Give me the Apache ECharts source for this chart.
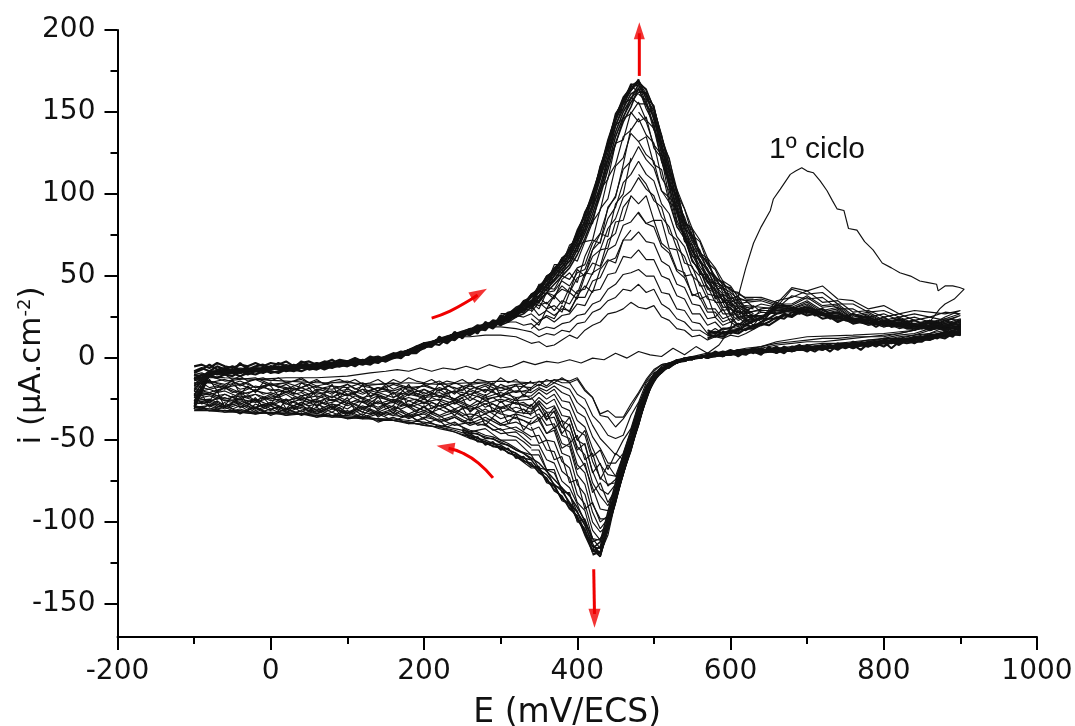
<!DOCTYPE html>
<html><head><meta charset="utf-8">
<style>html,body{margin:0;padding:0;background:#fff}#c{width:1075px;height:726px}</style>
<script src="https://cdn.jsdelivr.net/npm/echarts@6/dist/echarts.min.js"></script>
</head><body><div id="c"></div>
<script>
const xTicks=[-200,0,200,400,600,800,1000];
const yTicks=[-150,-100,-50,0,50,100,150,200];
const yMinor=[-125,-75,-25,25,75,125,175];
const eUp=[-100,-80,-60,-40,-20,0,20,40,60,80,100,120,140,160,180,200,220,240,260,280,300,320,
330,340,350,360,370,380,390,400,410,420,430,440,450,460,470,480,490,500,510,520,530,540,550,560,570,580,590,600,610,620,
640,660,680,700,720,740,760,780,800,820,840,860,880,900];
const eDn=[900,880,860,840,820,800,780,760,740,720,700,680,660,640,
620,610,600,590,580,570,560,550,540,530,520,510,500,490,480,470,460,450,440,430,420,410,400,390,380,370,360,350,340,
320,300,280,260,240,220,200,180,160,140,120,100,80,60,40,20,0,-20,-40,-60,-80,-100];

const e0Up=[-100,-60,-20,20,60,100,130,150,165,180,195,210,225,240,255,270,285,300,315,330,345,360,375,390,405,420,435,450,465,480,495,510,525,540,555,570,585,600,612,620,630,640,652,656,665,678,685,693,700,708,717,726,733,739,748,754,765,775,786,798,810,821,835,847,858,869,871,880,890,899,905];
const i0Up=[-12,-12,-13,-12,-12,-11,-9,-8,-7,-8,-6,-8,-6,-7,-5,-7,-4,-6,-5,-2,-4,-2,-3,-1,-3,0,-1,3,0,4,2,1,6,2,7,3,8,18,41,55,70,80,90,97,103,112,114,116,114,113,108,102,96,91,90,79,78,71,66,58,55,52,50,47,46,45,41,44,44,43,42];
const e0Dn=[905,892,880,873,860,840,800,760,700,660,640,620,600,570,540,520,510,500,490,480,470,460,450,440,430,420,410,400,390,380,340,300,260,220,180,140,100,60,20,-20,-60,-100];
const i0Dn=[42,36,33,30,22,17,15,14,13,10,7,5,4,2,0,-3,-4,-7,-13,-21,-28,-36,-36,-32,-34,-24,-19,-12,-14,-13,-15,-14,-15,-16,-15,-16,-15,-15,-14,-13,-12,-10];

const up01=[-11,-10,-8,-9,-7,-7,-6,-6,-4,-5,-3,-3,-1,0,4,7,10,13,13,14,14,13,
11,9,10,7,8,11,14,12,17,20,22,27,28,30,34,31,30,32,25,23,18,17,13,14,11,13,12,14,13,15,
20,33,43,41,44,36,35,30,32,27,29,28,27,29];
const dn01=[29,25,20,17,15,14,13,13,12,12,11,10,9,7,6,5,4,4,3,3,2,1,0,-1,
-3,-4,-8,-14,-22,-30,-37,-42,-36,-35,-24,-20,-13,-15,-12,-15,-13,-17,-15,
-16,-18,-15,-16,-19,-14,-17,-18,-15,-16,-17,-14,-15,-17,-13,-15,-16,-12,-13,-14,-11,-12];
const up02=[-12,-9,-9,-7,-8,-5,-6,-5,-5,-3,-3,-1,-1,2,5,8,11,14,17,19,19,18,
17,16,13,15,14,17,16,21,22,28,30,35,37,42,41,45,40,42,33,30,24,22,17,17,14,15,14,16,15,18,
22,31,42,39,40,33,33,28,29,25,27,25,28,27];
const dn02=[27,24,20,17,15,13,13,12,11,10,10,9,8,6,5,5,4,3,3,2,1,1,0,-2,
-3,-5,-10,-15,-27,-35,-47,-49,-47,-40,-35,-25,-22,-15,-15,-13,-17,-14,-18,
-17,-20,-16,-19,-15,-20,-17,-19,-16,-20,-15,-18,-17,-14,-18,-15,-17,-13,-16,-13,-15,-13];
const up03=[-13,-8,-8,-8,-6,-6,-5,-6,-4,-4,-2,-2,0,1,5,9,10,15,16,20,22,22,
20,21,17,19,18,21,22,26,27,33,35,42,45,51,52,54,50,50,40,39,30,29,22,21,15,18,15,17,16,20,
24,35,37,41,34,35,28,29,25,27,23,25,23,26];
const dn03=[25,22,18,15,14,12,11,10,9,9,8,7,6,5,5,4,4,3,2,2,1,0,-1,-2,
-3,-7,-9,-19,-28,-43,-50,-59,-54,-49,-41,-31,-27,-19,-17,-15,-18,-16,-19,
-21,-18,-20,-17,-21,-18,-22,-17,-20,-18,-21,-16,-19,-18,-15,-19,-16,-18,-14,-17,-14,-15];
const up04=[-14,-10,-7,-9,-7,-5,-7,-4,-5,-4,-3,-1,-1,1,3,8,12,13,17,18,23,26,
25,27,23,25,22,26,27,33,32,41,42,51,52,62,61,66,60,60,50,48,38,36,27,27,20,22,17,19,18,21,
25,30,38,36,37,30,30,25,27,23,25,22,24,23];
const dn04=[23,20,17,14,12,12,10,9,9,8,7,6,6,4,4,4,3,3,2,1,1,0,-1,-2,
-4,-5,-12,-18,-32,-44,-58,-64,-64,-55,-48,-36,-33,-23,-21,-17,-20,-18,-21,
-20,-23,-19,-22,-20,-23,-19,-22,-21,-18,-22,-19,-21,-17,-20,-18,-16,-20,-16,-18,-15,-16];
const up05=[-16,-9,-8,-7,-8,-7,-5,-5,-6,-3,-2,-3,0,2,5,7,11,15,15,20,24,28,
28,32,26,29,26,30,29,37,37,47,49,59,61,72,72,77,71,70,59,56,45,43,33,32,24,25,20,22,19,22,
24,33,33,38,32,33,26,28,23,25,21,23,21,24];
const dn05=[21,19,15,14,13,11,11,9,8,7,7,6,5,5,4,3,3,2,2,1,0,0,-1,-2,
-4,-7,-11,-21,-32,-49,-59,-72,-71,-65,-55,-42,-38,-27,-26,-19,-22,-19,-23,
-24,-21,-24,-20,-25,-21,-23,-20,-24,-21,-19,-23,-20,-22,-18,-21,-19,-17,-21,-17,-19,-17];
const up06=[-17,-10,-9,-8,-6,-6,-6,-5,-3,-5,-3,-2,-2,1,4,9,10,14,17,18,22,27,
28,34,32,34,29,35,33,41,42,52,55,66,69,81,83,89,82,80,68,64,53,49,39,37,28,28,22,24,20,23,
24,32,32,37,31,32,25,27,22,24,20,23,20,23];
const dn06=[20,17,15,13,11,11,9,9,7,7,6,5,6,4,4,4,3,2,1,2,1,0,-1,-3,
-4,-8,-11,-22,-34,-51,-62,-76,-77,-73,-63,-47,-44,-32,-30,-22,-25,-21,-25,
-26,-23,-25,-22,-26,-23,-24,-21,-26,-22,-24,-20,-24,-21,-23,-19,-22,-20,-22,-18,-21,-19];
const up07=[-19,-8,-7,-9,-7,-5,-7,-5,-4,-4,-2,-2,-1,0,4,8,12,13,16,20,23,26,
30,29,37,33,38,33,43,39,52,51,66,67,83,84,99,94,99,84,84,67,66,50,51,36,38,25,30,22,25,21,
24,32,31,35,29,31,24,26,22,23,20,21,22,20];
const dn07=[19,16,14,12,11,10,9,8,7,6,6,6,4,4,3,3,3,2,2,1,0,0,-1,-2,
-4,-7,-13,-21,-37,-50,-66,-77,-83,-80,-69,-53,-50,-36,-35,-25,-28,-24,-29,
-28,-25,-28,-24,-28,-25,-27,-24,-27,-23,-27,-22,-26,-23,-25,-21,-25,-22,-24,-20,-22,-20];
const up08=[-20,-9,-9,-6,-7,-7,-5,-6,-5,-3,-3,-1,-1,2,3,7,11,15,15,19,24,27,
29,33,34,40,38,42,40,49,51,62,66,79,85,98,102,110,103,99,86,80,67,62,50,46,36,35,27,27,23,25,
24,31,30,34,28,30,24,25,21,23,19,21,19,22];
const dn08=[18,16,13,13,10,10,10,7,7,7,5,5,5,3,4,3,2,3,1,1,1,-1,-1,-3,
-4,-6,-13,-21,-38,-51,-67,-80,-90,-84,-76,-59,-54,-41,-38,-29,-31,-26,-31,
-27,-30,-26,-30,-26,-29,-25,-29,-25,-28,-24,-28,-23,-27,-24,-26,-22,-26,-23,-25,-21,-22];
const up09=[-22,-10,-8,-8,-8,-5,-6,-4,-5,-5,-2,-2,0,1,5,9,10,14,18,18,22,28,
30,35,34,40,41,47,44,52,54,66,71,85,92,107,112,120,112,108,94,88,74,68,55,50,39,38,29,30,25,26,
25,30,30,33,27,29,23,25,21,22,20,19,21,20];
const dn09=[17,15,14,11,11,9,8,8,6,6,7,4,5,5,3,3,3,1,2,1,0,0,-2,-2,
-4,-9,-12,-24,-37,-54,-66,-84,-93,-92,-79,-66,-58,-45,-42,-33,-33,-28,-33,
-30,-33,-28,-32,-27,-31,-27,-30,-26,-30,-26,-29,-25,-29,-25,-28,-24,-27,-25,-26,-22,-23];
const up10=[-23,-8,-9,-7,-6,-7,-4,-6,-4,-3,-3,-1,-1,1,4,7,11,14,16,21,23,27,
29,35,35,43,42,50,48,55,57,70,76,91,99,115,120,129,121,116,102,95,80,73,59,54,42,40,31,31,24,26,
25,29,29,32,27,28,23,24,20,22,18,20,20,19];
const dn10=[16,14,12,12,10,10,8,7,8,6,5,5,4,3,4,2,2,2,2,0,1,-1,-1,-3,
-5,-7,-14,-22,-39,-52,-69,-83,-98,-98,-89,-70,-65,-49,-47,-36,-37,-31,-34,
-33,-30,-34,-29,-33,-29,-32,-28,-31,-27,-31,-26,-30,-26,-29,-25,-29,-25,-28,-24,-26,-24];
const up11=[-24,-11,-8,-9,-7,-6,-7,-5,-5,-4,-4,-2,0,1,5,8,12,13,17,19,22,26,
33,30,41,39,51,50,62,59,71,72,91,97,117,122,137,132,135,118,115,95,91,72,69,51,51,36,38,26,31,23,
24,29,28,31,27,27,22,24,20,21,19,18,20,19];
const dn11=[18,15,13,11,11,9,10,8,6,6,5,6,4,5,3,3,3,2,1,1,0,0,-2,-2,
-4,-9,-12,-24,-38,-55,-68,-86,-98,-104,-94,-77,-71,-54,-52,-40,-41,-34,-37,
-34,-37,-31,-36,-31,-35,-30,-34,-29,-33,-29,-33,-28,-32,-27,-31,-27,-30,-26,-29,-25,-26];
const up12=[-26,-9,-7,-8,-8,-6,-5,-4,-6,-4,-2,-3,-1,2,4,9,10,14,15,20,24,28,
31,35,38,45,47,56,59,69,71,83,90,110,118,135,139,146,136,131,110,102,82,75,59,54,43,41,31,31,25,26,
26,28,29,31,27,27,23,22,21,22,19,20,18,19];
const dn12=[15,14,14,12,9,10,9,7,7,5,6,4,5,4,4,3,2,3,1,0,1,0,-1,-3,
-5,-7,-14,-23,-40,-53,-70,-85,-102,-106,-100,-83,-77,-60,-58,-44,-46,-38,-40,
-36,-40,-34,-38,-33,-36,-32,-35,-31,-34,-30,-34,-29,-33,-29,-31,-28,-32,-27,-30,-26,-27];
const up13=[-27,-10,-8,-7,-7,-5,-6,-6,-4,-3,-3,-2,-1,0,3,8,12,15,16,18,23,27,
34,32,43,41,54,52,66,65,82,82,103,109,131,133,150,144,147,128,122,98,93,71,69,51,51,37,39,27,31,24,
28,27,31,28,28,24,24,21,22,20,21,18,19,18];
const dn13=[17,15,12,13,11,9,8,9,7,6,6,5,4,4,3,3,3,1,2,1,1,-1,-1,-2,
-5,-9,-12,-25,-38,-55,-69,-87,-101,-111,-105,-89,-83,-67,-63,-51,-50,-42,-44,
-39,-41,-36,-40,-35,-38,-33,-37,-32,-35,-31,-35,-30,-34,-30,-33,-29,-33,-28,-31,-27,-28];
const up14=[-28,-8,-9,-8,-6,-7,-5,-5,-5,-4,-2,-1,-2,1,5,7,11,13,17,19,22,28,
32,37,40,47,50,58,62,71,79,94,102,121,130,146,149,156,145,140,120,109,89,81,65,60,47,45,35,35,28,28,
29,29,28,30,26,26,22,23,20,21,18,20,17,20];
const dn14=[14,16,13,10,12,10,9,6,8,7,5,5,5,3,4,2,3,2,2,1,0,0,-2,-2,
-4,-8,-14,-23,-40,-54,-71,-85,-104,-111,-110,-93,-88,-73,-69,-57,-56,-47,-48,
-42,-44,-38,-41,-36,-39,-34,-36,-35,-33,-36,-32,-35,-31,-34,-31,-34,-30,-33,-29,-31,-29];
const up15=[-29,-10,-7,-9,-8,-6,-6,-4,-4,-5,-3,-2,0,1,4,9,10,14,15,20,22,26,
34,33,44,43,55,55,67,69,85,92,112,121,142,146,159,155,155,139,130,107,98,79,74,58,55,42,43,32,34,27,
30,31,30,28,28,23,24,20,22,19,21,17,19,18];
const dn15=[16,13,15,11,10,8,9,8,6,7,6,4,4,4,3,4,2,2,1,2,1,-1,-1,-2,
-5,-8,-13,-24,-39,-56,-69,-87,-102,-116,-110,-100,-89,-79,-75,-64,-62,-53,-53,
-45,-46,-41,-39,-41,-37,-40,-35,-38,-34,-37,-33,-36,-32,-35,-31,-35,-30,-34,-30,-32,-29];
const up16=[-29,-9,-8,-7,-7,-5,-7,-5,-5,-3,-3,-3,-1,2,3,8,11,15,17,19,24,29,
31,37,40,49,51,61,63,76,83,99,110,130,141,155,158,164,154,148,128,115,95,86,72,66,53,50,40,39,31,32,
31,30,29,28,26,25,21,23,19,21,20,17,19,18];
const dn16=[18,15,12,12,11,11,8,7,7,5,6,6,3,5,4,3,3,1,2,0,1,0,-1,-3,
-6,-7,-15,-23,-41,-54,-71,-86,-105,-116,-115,-101,-94,-83,-80,-70,-68,-59,-59,
-50,-50,-43,-45,-39,-42,-37,-40,-36,-39,-34,-37,-33,-36,-32,-35,-31,-34,-31,-33,-29,-30];
const up17=[-30,-10,-9,-8,-6,-7,-5,-6,-4,-4,-2,-2,-1,0,4,7,12,13,16,18,23,27,
35,34,45,45,57,57,69,72,89,95,117,127,148,152,166,162,162,146,136,113,103,83,79,64,61,47,47,36,38,29,
33,31,30,27,27,24,23,20,22,18,20,18,18,20];
const dn17=[15,16,13,13,10,9,10,7,6,7,5,5,6,4,3,4,2,3,1,1,0,-1,-1,-2,
-4,-9,-12,-26,-39,-57,-70,-88,-104,-121,-113,-107,-93,-90,-79,-78,-68,-67,-59,
-56,-51,-48,-45,-43,-41,-39,-38,-37,-37,-36,-35,-35,-34,-34,-33,-33,-33,-32,-32,-31,-30];
const up18=[-30,-8,-8,-9,-7,-6,-6,-4,-5,-4,-3,-1,-1,1,5,8,10,14,16,21,22,28,
32,37,42,48,52,61,64,77,86,100,114,132,146,157,163,168,158,154,132,122,100,91,75,71,58,54,44,43,33,34,
35,32,31,29,26,25,22,22,19,21,17,19,17,19];
const dn18=[17,14,14,11,12,10,7,8,7,6,7,4,5,4,5,3,2,2,2,1,1,0,-2,-2,
-5,-8,-14,-24,-41,-55,-71,-88,-103,-118,-118,-104,-98,-88,-86,-77,-75,-66,-66,
-58,-54,-51,-47,-44,-42,-41,-39,-38,-37,-36,-36,-35,-35,-34,-34,-33,-34,-33,-32,-32,-31];
const up19=[-31,-9,-9,-7,-8,-5,-5,-6,-4,-3,-2,-3,0,1,4,9,11,13,17,19,23,29,
33,39,41,50,53,60,65,74,83,98,112,130,144,158,164,169,161,153,135,121,103,91,79,72,61,55,47,44,37,35,
36,33,30,29,26,25,22,21,20,19,19,18,19,21];
const dn19=[16,15,12,12,10,11,9,7,8,5,6,5,4,4,4,2,3,3,1,0,1,-1,-1,-3,
-5,-9,-14,-25,-41,-56,-71,-87,-108,-119,-119,-105,-99,-89,-87,-78,-76,-67,-67,
-60,-55,-52,-48,-45,-43,-40,-40,-38,-38,-36,-37,-35,-36,-34,-35,-33,-34,-33,-33,-32,-31];
const up20=[-31,-11,-8,-8,-7,-6,-5,-5,-3,-4,-3,-2,-1,2,5,8,11,15,18,20,24,30,
34,38,43,49,54,60,66,77,88,100,116,132,148,158,166,169,163,153,135,118,100,84,74,65,57,50,45,42,39,37,
37,34,31,29,26,24,23,21,21,19,18,18,19,22];
const dn20=[14,14,11,11,11,9,8,9,6,6,6,4,5,3,4,3,3,2,1,1,0,0,-2,-3,
-5,-8,-13,-24,-40,-55,-70,-87,-105,-121,-117,-107,-97,-91,-85,-80,-74,-69,-65,
-60,-55,-52,-49,-45,-42,-41,-39,-38,-37,-37,-36,-36,-35,-34,-34,-34,-33,-33,-32,-32,-32];

const eBandUp=[-100,-90,-80,-70,-60,-50,-40,-30,-20,-10,0,10,20,30,40,50,60,70,80,90,100,110,120,130,140,150,160,170,180,190,200,210,220,230,240,250,260,270,280,290,300,310,320];
const bandUp1=[-5,-4,-6,-3,-5,-6,-4,-5,-3,-5,-3,-4,-2,-5,-3,-2,-4,-2,-3,-1,-2,0,-2,1,-1,1,3,2,5,7,9,8,12,11,15,14,17,20,19,23,22,27,25];
const bandUp2=[-8,-6,-8,-5,-7,-5,-7,-6,-8,-6,-5,-7,-6,-4,-6,-5,-3,-5,-4,-2,-4,-3,-1,-3,0,-1,2,3,4,5,9,10,10,13,14,16,15,19,21,20,24,23,28];
const bandUp3=[-10,-12,-8,-10,-9,-7,-9,-7,-8,-9,-7,-6,-8,-7,-5,-7,-6,-6,-4,-5,-3,-5,-2,-3,-1,-2,0,2,2,6,6,9,10,11,12,15,14,17,18,21,21,24,27];
const bandUp4=[-13,-10,-11,-9,-10,-11,-8,-10,-8,-7,-9,-8,-7,-8,-6,-6,-7,-5,-6,-4,-5,-3,-4,-2,-3,0,0,1,3,3,7,7,11,9,13,13,16,16,20,18,23,24,26];
const bandUp5=[-12,-13,-11,-12,-10,-9,-11,-9,-10,-8,-8,-9,-7,-7,-8,-6,-5,-7,-5,-5,-4,-4,-3,-4,-1,-2,1,0,4,4,6,9,8,12,11,15,16,18,17,22,20,25,29];
const bandUp6=[-9,-7,-4,-7,-6,-8,-3,-7,-5,-4,-6,-3,-5,-6,-2,-4,-5,-3,-1,-4,-2,-1,-3,0,1,-1,2,4,3,7,8,7,13,10,16,12,18,15,22,19,26,22,30];

const eBandDn=[340,330,320,310,300,290,280,270,260,250,240,230,220,210,200,190,180,170,160,150,140,130,120,110,100,90,80,70,60,50,40,30,20,10,0,-10,-20,-30,-40,-50,-60,-70,-80,-90,-100];
const bandDn1=[-14,-17,-13,-15,-12,-16,-14,-13,-16,-13,-15,-14,-16,-13,-15,-14,-12,-15,-13,-16,-13,-15,-16,-13,-15,-13,-14,-16,-13,-15,-12,-14,-15,-12,-14,-12,-13,-14,-11,-13,-10,-12,-11,-9,-10];
const bandDn2=[-20,-17,-21,-18,-16,-20,-17,-19,-16,-20,-18,-17,-20,-18,-16,-19,-20,-17,-19,-16,-20,-18,-17,-19,-16,-19,-17,-18,-20,-16,-18,-19,-16,-18,-15,-17,-18,-15,-17,-14,-16,-15,-14,-16,-13];
const bandDn3=[-25,-22,-26,-21,-24,-20,-23,-21,-19,-23,-20,-22,-19,-23,-21,-20,-23,-19,-22,-20,-21,-23,-19,-21,-22,-19,-22,-20,-19,-22,-20,-18,-21,-19,-20,-17,-20,-18,-19,-16,-19,-17,-18,-15,-17];
const bandDn4=[-30,-27,-28,-25,-27,-24,-26,-23,-26,-22,-25,-23,-24,-21,-25,-23,-22,-25,-21,-24,-23,-21,-25,-22,-23,-21,-24,-22,-20,-24,-21,-22,-20,-23,-21,-22,-19,-22,-20,-21,-18,-21,-19,-20,-18];
const bandDn5=[-35,-31,-33,-29,-31,-28,-30,-26,-29,-27,-25,-28,-26,-24,-28,-25,-26,-24,-27,-25,-24,-27,-25,-23,-26,-24,-26,-23,-25,-26,-23,-25,-22,-24,-23,-25,-22,-24,-21,-24,-22,-23,-21,-23,-20];
const bandDn6=[-41,-38,-37,-35,-34,-32,-33,-30,-31,-29,-31,-28,-29,-27,-30,-28,-26,-29,-27,-28,-26,-29,-27,-26,-28,-25,-27,-28,-25,-27,-26,-24,-27,-25,-26,-24,-26,-23,-25,-24,-22,-25,-23,-24,-22];
const bandDn7=[-50,-46,-44,-42,-40,-37,-38,-35,-34,-35,-32,-33,-31,-33,-30,-32,-29,-31,-30,-28,-31,-29,-30,-28,-31,-29,-28,-30,-28,-29,-27,-29,-28,-26,-28,-29,-26,-28,-25,-27,-26,-24,-27,-25,-24];
const bandDn8=[-62,-58,-55,-52,-50,-48,-47,-45,-44,-42,-40,-42,-38,-37,-36,-38,-34,-36,-33,-35,-32,-34,-33,-31,-34,-32,-31,-33,-30,-32,-31,-29,-32,-30,-31,-28,-31,-29,-30,-28,-30,-28,-29,-27,-28];
const bandDn9=[-18,-23,-16,-20,-23,-15,-21,-18,-24,-17,-22,-19,-15,-22,-19,-23,-16,-21,-24,-17,-20,-24,-16,-22,-18,-24,-16,-22,-24,-18,-15,-22,-18,-23,-17,-15,-21,-17,-22,-13,-18,-20,-13,-18,-15];
const bandDn10=[-28,-34,-24,-31,-26,-33,-22,-29,-33,-24,-28,-20,-27,-31,-23,-26,-30,-21,-29,-31,-23,-30,-26,-32,-24,-28,-31,-25,-30,-22,-29,-26,-31,-22,-28,-30,-24,-29,-21,-27,-30,-20,-26,-28,-22];
const bandDn11=[-38,-44,-34,-40,-31,-36,-41,-32,-38,-30,-35,-31,-27,-34,-29,-33,-30,-26,-34,-29,-32,-27,-33,-30,-27,-34,-29,-32,-26,-33,-28,-31,-25,-32,-29,-24,-31,-27,-30,-23,-29,-26,-30,-22,-26];
const bandDn12=[-55,-51,-48,-47,-43,-44,-40,-41,-37,-39,-36,-38,-35,-33,-37,-34,-36,-32,-35,-33,-36,-31,-35,-32,-34,-30,-33,-31,-34,-30,-33,-30,-33,-29,-32,-30,-28,-32,-29,-31,-27,-30,-28,-31,-30];

const eBandR=[570,580,590,600,610,620,630,640,650,660,670,680,690,700,710,720,730,740,750,760,770,780,790,800,810,820,830,840,850,860,870,880,890,900];
const bandR1=[17,15,18,18,21,20,23,24,24,27,28,30,30,31,29,30,27,28,25,27,25,25,23,25,22,24,22,23,21,22,21,23,21,23];
const bandR2=[15,16,15,17,17,20,19,22,24,24,27,26,29,28,29,26,27,24,26,24,23,24,21,23,22,20,22,20,21,19,21,19,21,20];
const bandR3=[14,13,16,15,18,17,20,20,22,25,24,28,27,30,26,27,24,26,23,23,24,21,23,20,22,21,19,21,18,20,19,20,18,19];
const bandR4=[12,14,13,16,15,18,18,21,20,23,26,25,28,26,27,24,25,22,24,21,22,22,19,22,19,20,18,18,19,17,19,17,19,18];
const bandR5=[3,2,4,3,5,3,6,4,5,7,4,6,8,5,7,6,8,6,9,7,9,8,10,9,11,9,12,11,13,12,14,13,16,15];
const bandR6=[1,4,2,2,4,5,3,6,4,4,7,5,5,8,6,8,6,9,7,10,8,10,8,11,9,12,10,13,11,14,13,16,14,17];
const bandR7=[2,1,3,5,3,2,5,3,6,5,3,7,6,4,7,5,7,5,8,6,8,7,9,7,10,8,11,9,12,11,13,12,15,14];
const bandR8=[0,3,1,4,1,4,4,2,7,3,6,4,7,6,4,7,4,8,6,8,5,9,7,10,6,10,9,10,10,13,12,15,13,18];

const eFlankL=[300,310,320,330,340,350,360,370,380,390,400,410,420,430,440,450,460,470,480];
const flankL1=[27,27,31,33,39,42,50,53,61,65,78,87,101,115,133,147,159,165,168];
const flankL2=[25,28,29,35,37,44,48,55,59,67,75,89,98,117,130,149,156,167,166];
const flankL3=[24,26,30,32,38,41,47,52,58,63,73,84,97,112,128,145,155,163,170];
const flankL4=[23,26,27,31,35,40,45,50,56,61,71,81,94,109,125,142,152,161,164];
const flankL5=[22,24,28,29,34,38,44,48,54,59,68,78,91,105,122,138,150,158,167];
const flankL6=[21,24,25,30,32,37,42,47,52,57,66,76,88,102,118,135,147,156,162];
const flankL7=[20,22,25,27,31,35,40,45,50,55,63,73,85,99,115,131,144,153,165];

const eFlankR=[480,490,500,510,520,530,540,550,560,570,580,590,600,610,620,630];
const flankR1=[168,164,152,136,117,101,83,75,64,58,49,46,41,40,36,36];
const flankR2=[166,160,149,131,115,97,82,71,63,54,48,43,40,36,35,31];
const flankR3=[170,158,151,128,112,94,79,69,60,53,45,42,37,35,31,30];
const flankR4=[163,161,145,130,108,92,77,66,59,50,44,39,36,32,30,27];
const flankR5=[167,155,147,124,110,89,75,65,56,49,41,38,33,31,28,26];
const flankR6=[161,157,141,126,104,88,72,63,54,46,42,35,32,29,26,24];
const flankR7=[165,152,143,120,106,84,74,60,52,47,38,36,30,28,27,23];

const eTroughR=[540,530,520,510,500,490,480,470,460,450,440,430,420];
const troughR1=[0,-3,-4,-9,-12,-25,-39,-56,-69,-88,-104,-121,-116];
const troughR2=[-1,-2,-6,-7,-14,-22,-36,-52,-67,-84,-103,-118,-120];
const troughR3=[0,-2,-5,-8,-11,-20,-34,-50,-64,-81,-99,-119,-114];
const troughR4=[-2,-1,-4,-6,-12,-18,-31,-47,-62,-79,-97,-115,-118];
const troughR5=[-1,-3,-3,-7,-10,-17,-29,-45,-59,-76,-94,-112,-116];

const eTroughL=[420,410,400,390,380,370,360,350,340,330,320,310,300,290,280,270,260,250];
const troughL1=[-118,-108,-96,-92,-84,-81,-73,-70,-64,-63,-59,-58,-54,-54,-51,-51,-47,-47];
const troughL2=[-115,-105,-98,-89,-86,-78,-75,-67,-66,-60,-61,-55,-56,-51,-53,-48,-49,-44];
const troughL3=[-113,-102,-94,-88,-81,-77,-71,-68,-62,-61,-58,-56,-53,-52,-50,-49,-46,-45];
const troughL4=[-110,-99,-91,-84,-79,-74,-69,-64,-61,-58,-56,-53,-52,-49,-49,-46,-46,-43];

const eFanDn=[470,460,450,440,430,420,410,400,390,380,370,360,350,340];
const fanDn1=[-50,-62,-58,-68,-56,-60,-44,-50,-36,-42,-30,-36,-27,-32];
const fanDn2=[-54,-70,-72,-65,-74,-58,-62,-47,-52,-38,-43,-33,-38,-28];
const fanDn3=[-52,-66,-80,-88,-76,-82,-64,-68,-52,-55,-42,-46,-36,-40];
const fanDn4=[-54,-68,-84,-96,-100,-88,-92,-74,-76,-60,-62,-50,-52,-42];
const fanDn5=[-55,-70,-86,-102,-110,-112,-98,-100,-82,-82,-68,-68,-56,-56];
const fanDn6=[-48,-60,-74,-78,-64,-70,-52,-56,-40,-46,-32,-38,-30,-24];

const eFanUpL=[340,350,360,370,380,390,400,410,420,430,440,450,460,470];
const fanUpL1=[18,22,26,24,32,28,38,44,40,54,60,58,72,78];
const fanUpL2=[24,20,30,32,28,40,36,50,58,56,72,76,92,98];
const fanUpL3=[28,34,30,38,44,40,54,50,66,76,74,94,100,122];
const fanUpL4=[34,30,40,36,48,52,46,62,72,70,92,98,118,140];

const eFanUpR=[480,490,500,510,520,530,540,550,560,570,580,590,600,610,620,630,640];
const fanUpR1=[88,82,84,70,66,54,52,38,40,30,30,24,26,20,24,20,26];
const fanUpR2=[112,106,96,92,76,72,58,56,44,44,34,34,26,28,22,26,22];
const fanUpR3=[132,124,120,102,98,80,76,62,60,46,46,34,34,26,30,24,30];
const fanUpR4=[150,144,130,124,104,100,82,78,62,60,46,44,34,36,28,32,28];

const ups=[up01,up02,up03,up04,up05,up06,up07,up08,up09,up10,up11,up12,up13,up14,up15,up16,up17,up18,up19,up20];
const dns=[dn01,dn02,dn03,dn04,dn05,dn06,dn07,dn08,dn09,dn10,dn11,dn12,dn13,dn14,dn15,dn16,dn17,dn18,dn19,dn20];
const bandsUp=[bandUp1,bandUp2,bandUp3,bandUp4,bandUp5,bandUp6];
const bandsDn=[bandDn1,bandDn2,bandDn3,bandDn4,bandDn5,bandDn6,bandDn7,bandDn8,bandDn9,bandDn10,bandDn11,bandDn12];
const bandsR=[bandR1,bandR2,bandR3,bandR4,bandR5,bandR6,bandR7,bandR8];
const flanksL=[flankL1,flankL2,flankL3,flankL4,flankL5,flankL6,flankL7];
const flanksR=[flankR1,flankR2,flankR3,flankR4,flankR5,flankR6,flankR7];
const troughsR=[troughR1,troughR2,troughR3,troughR4,troughR5];
const troughsL=[troughL1,troughL2,troughL3,troughL4];
const fansDn=[fanDn1,fanDn2,fanDn3,fanDn4,fanDn5,fanDn6];
const fansUpL=[fanUpL1,fanUpL2,fanUpL3,fanUpL4];
const fansUpR=[fanUpR1,fanUpR2,fanUpR3,fanUpR4];

const arrowUpE=[481,481], arrowUpI=[172,198];
const arrowUpHead=[481,199.5];
const arrowDnE=[421.5,422.5], arrowDnI=[-128.7,-156];
const arrowDnHead=[422.5,-158.5];
const arrowAE=[210,234,260,270], arrowAI=[24.4,28.7,35.4,38.5];
const arrowAHead=[272,39.5];
const arrowCE=[290,271,251,232], arrowCI=[-73,-64,-58,-55];
const arrowCHead=[228,-54.3];

const zip=(a,b)=>a.map((v,i)=>[v,b[i]]);
const black='#111';
const cyc=(data,w)=>({type:'line',xAxisIndex:0,yAxisIndex:0,data,showSymbol:false,symbol:'none',silent:true,
  lineStyle:{color:black,width:w||1.15},clip:false,z:2});
const series=[];
series.push(cyc(zip(e0Up,i0Up).concat(zip(e0Dn,i0Dn))));
ups.forEach((u,k)=>series.push(cyc(zip(eUp,u).concat(zip(eDn,dns[k])))));
bandsUp.forEach(b=>series.push(cyc(zip(eBandUp,b),2.2)));
bandsDn.forEach(b=>series.push(cyc(zip(eBandDn,b))));
bandsR.forEach(b=>series.push(cyc(zip(eBandR,b),2.1)));
flanksL.forEach(b=>series.push(cyc(zip(eFlankL,b),1.6)));
flanksR.forEach(b=>series.push(cyc(zip(eFlankR,b),1.3)));
troughsR.forEach(b=>series.push(cyc(zip(eTroughR,b),1.6)));
troughsL.forEach(b=>series.push(cyc(zip(eTroughL,b),1.5)));
fansDn.forEach(b=>series.push(cyc(zip(eFanDn,b))));
fansUpL.forEach(b=>series.push(cyc(zip(eFanUpL,b))));
fansUpR.forEach(b=>series.push(cyc(zip(eFanUpR,b))));
const red='#f00000';
const arr=(e,i,smooth,w)=>({type:'line',data:zip(e,i),showSymbol:false,symbol:'none',smooth,silent:true,clip:false,z:5,lineStyle:{color:red,width:w}});
const head=(p,rot,size)=>({type:'scatter',data:[p],symbol:'triangle',symbolSize:size,symbolRotate:rot,silent:true,clip:false,z:6,itemStyle:{color:red}});
series.push(arr(arrowUpE,arrowUpI,false,3),head(arrowUpHead,0,[11,17]));
series.push(arr(arrowDnE,arrowDnI,false,3),head(arrowDnHead,180,[12,19]));
series.push(arr(arrowAE,arrowAI,true,3),head(arrowAHead,-60,[12,18]));
series.push(arr(arrowCE,arrowCI,true,3),head(arrowCHead,80,[12,18]));

const font='"DejaVu Sans"';
const chart=echarts.init(document.getElementById('c'),null,{renderer:'canvas'});
chart.setOption({
 animation:false,backgroundColor:'#fff',
 grid:{left:117.5,right:38,top:30,bottom:89,containLabel:false,outerBoundsMode:'none'},
 xAxis:{type:'value',min:-200,max:1000,interval:200,
  name:'E (mV/ECS)',nameLocation:'middle',nameGap:60,nameMoveOverlap:false,
  nameTextStyle:{fontFamily:font,fontSize:33,color:'#111',padding:[0,20,0,0]},
  axisLine:{show:true,onZero:false,lineStyle:{color:'#000',width:2}},
  axisTick:{show:true,length:13,lineStyle:{color:'#000',width:2}},
  minorTick:{show:true,splitNumber:2,length:7,lineStyle:{color:'#000',width:2}},
  splitLine:{show:false},
  axisLabel:{margin:21,fontFamily:font,fontSize:28,color:'#111',showMinLabel:true,showMaxLabel:true,formatter:v=>String(v),hideOverlap:false}
 },
 yAxis:[{type:'value',min:-170,max:200,position:'left',
  name:'{a|i (µA.cm}{b|-2}{a|)}',nameLocation:'middle',nameGap:70,nameRotate:90,nameMoveOverlap:false,
  nameTextStyle:{padding:[0,64,0,0],rich:{a:{fontFamily:font,fontSize:31,color:'#111'},b:{fontFamily:font,fontSize:18,color:'#111',verticalAlign:'top',padding:[0,0,12,0]}}},
  axisLine:{show:true,onZero:false,lineStyle:{color:'#000',width:2}},
  axisTick:{show:true,length:13,customValues:yTicks,lineStyle:{color:'#000',width:2}},
  splitLine:{show:false},
  axisLabel:{margin:22,fontFamily:font,fontSize:28,color:'#111',customValues:yTicks,formatter:v=>String(v),hideOverlap:false}
 },{type:'value',min:-170,max:200,position:'left',
  axisLine:{show:false,onZero:false},axisLabel:{show:false},splitLine:{show:false},
  axisTick:{show:true,length:7,customValues:yMinor,lineStyle:{color:'#000',width:2}}
 }],
 graphic:[{type:'text',left:769,top:135,silent:true,style:{text:'1º ciclo',fontFamily:'"Liberation Sans"',fontSize:30,fill:'#111'}}],
 series
});
</script></body></html>
